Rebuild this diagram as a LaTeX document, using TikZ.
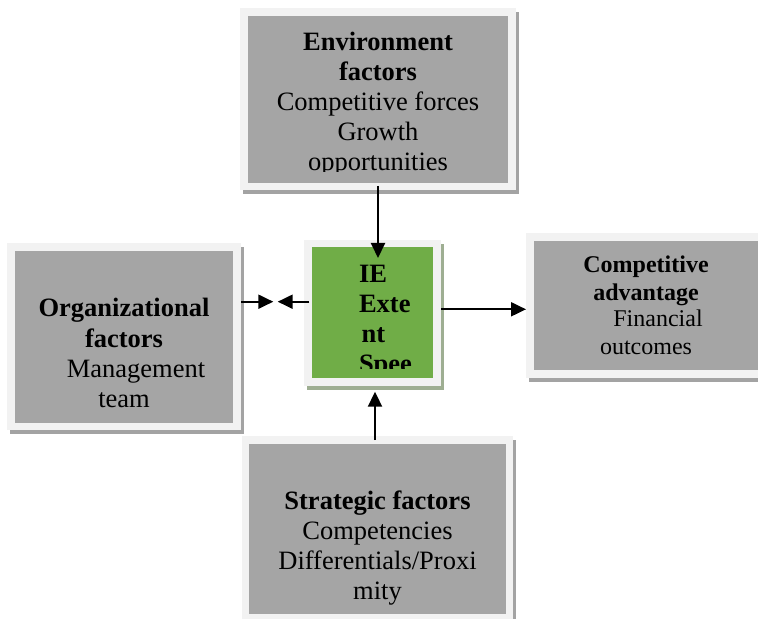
\documentclass[tikz,border=0pt]{standalone}
\usepackage{fontspec}
\setmainfont{Liberation Serif}
\usetikzlibrary{arrows.meta,fit,shadows}
\definecolor{framegray}{HTML}{F2F2F2}
\definecolor{boxgray}{HTML}{A5A5A5}
\definecolor{shadowgray}{HTML}{A3A3A3}
\definecolor{iegreen}{HTML}{70AD47}
\definecolor{greenshadow}{HTML}{9EAE92}
\tikzset{
  frame/.style={fill=framegray, draw=none, inner sep=0pt, outer sep=0pt,
    drop shadow={shadow xshift=1.5pt, shadow yshift=-2pt, fill=shadowgray, opacity=1}},
  greenframe/.style={fill=framegray, draw=none, inner sep=0pt, outer sep=0pt,
    drop shadow={shadow xshift=1.5pt, shadow yshift=-2pt, fill=greenshadow, opacity=1}},
  core/.style={fill=boxgray, draw=none, inner sep=0pt, outer sep=0pt},
  txt/.style={inner sep=0pt, outer sep=0pt, align=center, anchor=north,
    font=\fontsize{13.25}{15}\selectfont},
  smalltxt/.style={txt, font=\fontsize{12}{13.5}\selectfont},
  link/.style={line width=1pt, -{Triangle[length=7.5pt,width=7pt]}},
}
\begin{document}
\begin{tikzpicture}[x=0.5pt,y=-0.5pt]
\useasboundingbox (0,0) rectangle (758,619);
% frames
\node[frame, fit={(240,8) (516,190)}] (env) {};
\node[frame, fit={(7,243) (241,430)}] (org) {};
\node[frame, fit={(526,233) (775,378)}] (comp) {};
\node[frame, fit={(242,436) (513,640)}] (strat) {};
\node[greenframe, fit={(304,240) (441,386)}] (ie) {};
% inner fills
\node[core, fit={(248,16) (508,183)}] (envcore) {};
\node[core, fit={(15,251) (233,423)}] (orgcore) {};
\node[core, fit={(534,241) (775,370)}] (compcore) {};
\node[core, fit={(249,444) (506,614)}] (stratcore) {};
\node[core, fill=iegreen, fit={(312,247) (433,378)}] (iecore) {};
% texts
\begin{scope}
\clip (248,16) rectangle (508,172);
\node[txt] (envtxt) at (378,31) {\rule{0pt}{10pt}\textbf{Environment}\\\textbf{factors}\\Competitive forces\\Growth\\opportunities};
\end{scope}
\begin{scope}
\clip (312,247) rectangle (433,368);
\node[txt, align=left, anchor=north west, font=\fontsize{13.25}{15}\selectfont\bfseries] (ietxt) at (359,262) {\rule{0pt}{10pt}IE\\Exte\\\hspace*{1.3pt}nt\\Spee};
\end{scope}
\node[txt] (orgtxt) at (124,297) {\rule{0pt}{10pt}\textbf{Organizational}\\\textbf{factors}\\\hspace*{12pt}Management\\team};
\node[smalltxt] (comptxt) at (646,253) {\rule{0pt}{10pt}\textbf{Competitive}\\\textbf{advantage}\\\hspace*{12pt}Financial\\outcomes};
\node[txt] (strattxt) at (377.5,489) {\rule{0pt}{10pt}\textbf{Strategic factors}\\Competencies\\Differentials/Proxi\\mity};
% connectors
\coordinate (meetL) at (275.5,301.7);
\draw[link] ([yshift=2pt]env.south) -- ([yshift=-9pt]env.south |- ie.north);
\draw[link] ([xshift=-1.25pt,yshift=-2pt]strat.north) -- ([xshift=-1.25pt,yshift=-2.85pt]strat.north |- ie.south);
\draw[link] (org.east |- meetL) -- ([xshift=-1.1pt]meetL);
\draw[link] ([xshift=2.65pt]ie.west |- meetL) -- ([xshift=1.1pt]meetL);
\draw[link] ([yshift=1.85pt]ie.east) -- ([yshift=1.85pt]ie.east -| comp.west);
\end{tikzpicture}
\end{document}
